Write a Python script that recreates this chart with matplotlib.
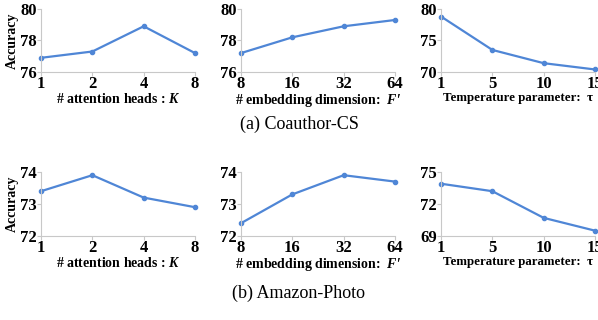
import matplotlib
matplotlib.use("Agg")
from matplotlib import pyplot as plt

plt.rcParams['font.family'] = ['Liberation Serif', 'DejaVu Serif']
plt.rcParams['font.weight'] = 'bold'
plt.rcParams['axes.labelweight'] = 'bold'
plt.rcParams['mathtext.fontset'] = 'custom'
plt.rcParams['mathtext.rm'] = 'Liberation Serif:bold'
plt.rcParams['mathtext.it'] = 'Liberation Serif:bold:italic'

heads = ['1', '2', '4', '8']
dims = ['8', '16', '32', '64']
temps = ['1', '5', '10', '15']

cs_heads = [76.9, 77.3, 78.9, 77.2]
cs_dims = [77.2, 78.2, 78.9, 79.3]
cs_temps = [78.8, 73.5, 71.4, 70.4]

ph_heads = [73.4, 73.9, 73.2, 72.9]
ph_dims = [72.4, 73.3, 73.9, 73.7]
ph_temps = [73.9, 73.2, 70.7, 69.5]

xlabels = ['# attention heads : $K$',
           '# embedding dimension:  $F$\u2032',
           'Temperature parameter:  \u03c4']

rows = [
    ([cs_heads, cs_dims, cs_temps], [(76, 80, [76, 78, 80]), (76, 80, [76, 78, 80]), (70, 80, [70, 75, 80])]),
    ([ph_heads, ph_dims, ph_temps], [(72, 74, [72, 73, 74]), (72, 74, [72, 73, 74]), (69, 75, [69, 72, 75])]),
]
cats = [heads, dims, temps]

fig = plt.figure(figsize=(5.98, 3.2), dpi=100)
lefts = [0.0686, 0.403, 0.7375]
bottoms = [0.775, 0.2625]
heights = [0.197, 0.2]

for r, (series, lims) in enumerate(rows):
    for c in range(3):
        ax = fig.add_axes([lefts[c], bottoms[r], 0.2575, heights[r]])
        x = list(range(4))
        ax.plot(x, series[c], color='#4f86d6', lw=1.6, marker='o', ms=3,
                clip_on=False)
        lo, hi, ticks = lims[c]
        ax.set_ylim(lo, hi)
        ax.set_yticks(ticks)
        ax.set_xlim(0, 3)
        ax.set_xticks(x)
        ax.set_xticklabels(cats[c])
        for s in ['top', 'right']:
            ax.spines[s].set_visible(False)
        for s in ['left', 'bottom']:
            ax.spines[s].set_color('#c8c8c8')
            ax.spines[s].set_linewidth(0.8)
        ax.tick_params(length=3, color='#c8c8c8', labelsize=12, pad=0)
        fs = 9.3 if c == 2 else 10
        ax.set_xlabel(xlabels[c], fontsize=fs, labelpad=0)
        if c == 0:
            ax.set_ylabel('Accuracy', fontsize=10, labelpad=1)

fig.text(0.5, 0.61, '(a) Coauthor-CS', ha='center', va='center',
         fontsize=13, fontweight='normal')
fig.text(0.5, 0.084, '(b) Amazon-Photo', ha='center', va='center',
         fontsize=13, fontweight='normal')

fig.savefig('out.png', dpi=100)
